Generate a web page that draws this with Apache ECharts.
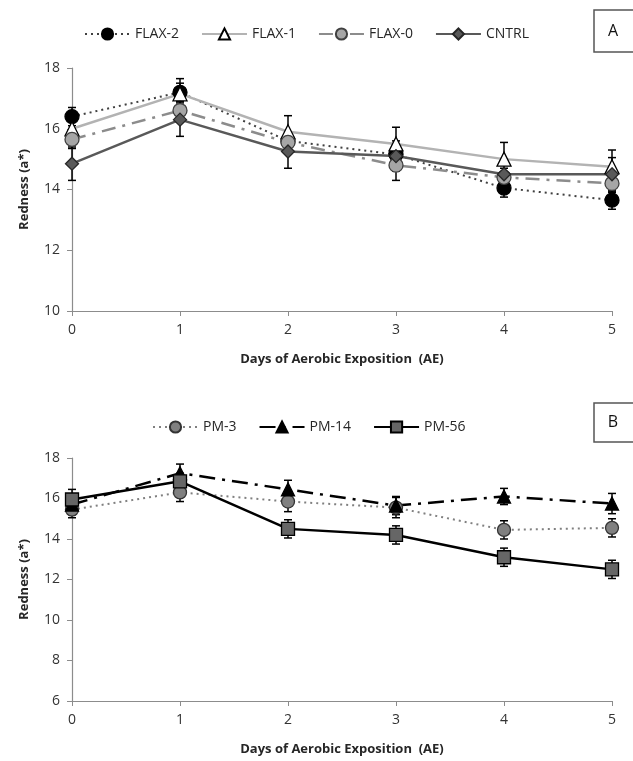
<!DOCTYPE html>
<html>
<head>
<meta charset="utf-8">
<script src="https://cdn.jsdelivr.net/npm/echarts@6/dist/echarts.min.js"></script>
<style>
html,body{margin:0;padding:0;background:#fff;}
#chart{width:633px;height:761px;}
</style>
</head>
<body>
<div id="chart"></div>
<script>
// ---- data ----
var days = [0, 1, 2, 3, 4, 5];
var xTicks = ['0', '1', '2', '3', '4', '5'];

// Panel A
var flax2 = [16.4, 17.2, 15.6, 15.15, 14.05, 13.65];
var flax1 = [16.0, 17.15, 15.9, 15.5, 15.0, 14.75];
var flax0 = [15.65, 16.6, 15.55, 14.8, 14.4, 14.2];
var cntrl = [14.85, 16.3, 15.25, 15.1, 14.5, 14.5];
var flax2Err = [0.3, 0.3, 0.3, 0.3, 0.3, 0.3];
var flax1Err = [0.4, 0.5, 0.53, 0.55, 0.55, 0.55];
var flax0Err = [0.3, 0.3, 0.3, 0.5, 0.3, 0.3];
var cntrlErr = [0.55, 0.55, 0.55, 0.5, 0.45, 0.55];

// Panel B
var pm3 = [15.45, 16.3, 15.85, 15.55, 14.45, 14.55];
var pm14 = [15.7, 17.25, 16.45, 15.65, 16.1, 15.75];
var pm56 = [15.95, 16.85, 14.5, 14.2, 13.1, 12.5];
var pm3Err = [0.4, 0.45, 0.5, 0.5, 0.45, 0.45];
var pm14Err = [0.5, 0.45, 0.45, 0.45, 0.4, 0.5];
var pm56Err = [0.5, 0.4, 0.45, 0.45, 0.45, 0.45];

var yTicksA = [10, 12, 14, 16, 18];
var yTicksB = [6, 8, 10, 12, 14, 16, 18];

// ---- helpers ----
function pts(vals) { return days.map(function (d, i) { return [d, vals[i]]; }); }
function errData(vals, err) {
  return days.map(function (d, i) { return [d, vals[i] - err[i], vals[i] + err[i]]; });
}
function errSeries(name, vals, err, gi) {
  return {
    type: 'custom', name: name + '_err', xAxisIndex: gi, yAxisIndex: gi, z: 1,
    silent: true,
    data: errData(vals, err),
    renderItem: function (params, api) {
      var x = api.value(0);
      var top = api.coord([x, api.value(2)]);
      var bot = api.coord([x, api.value(1)]);
      var w = 4;
      var st = { stroke: '#000', lineWidth: 1.5 };
      return {
        type: 'group',
        children: [
          { type: 'line', shape: { x1: top[0], y1: top[1], x2: bot[0], y2: bot[1] }, style: st },
          { type: 'line', shape: { x1: top[0] - w, y1: top[1], x2: top[0] + w, y2: top[1] }, style: st },
          { type: 'line', shape: { x1: bot[0] - w, y1: bot[1], x2: bot[0] + w, y2: bot[1] }, style: st }
        ]
      };
    }
  };
}
function lineSeries(name, vals, gi, line, marker) {
  return {
    type: 'line', name: name, xAxisIndex: gi, yAxisIndex: gi, z: 3,
    data: pts(vals),
    symbol: marker.symbol, symbolSize: marker.size,
    showSymbol: true,
    itemStyle: { color: marker.fill, borderColor: marker.border, borderWidth: 1.3 },
    lineStyle: line,
    emphasis: { disabled: true },
    animation: false
  };
}

var font = 'Open Sans, Liberation Sans, sans-serif';
var axisGray = '#8c8c8c';

function xAxisCfg(gi) {
  return {
    type: 'value', gridIndex: gi, min: 0, max: 5, interval: 1,
    axisLine: { show: true, onZero: false, lineStyle: { color: axisGray, width: 1.2 } },
    axisTick: { show: true, inside: false, length: 5, lineStyle: { color: axisGray } },
    splitLine: { show: false },
    axisLabel: { color: '#333', fontSize: 14, fontFamily: font, margin: 12,
      formatter: function (v) { return xTicks[days.indexOf(v)]; } },
    name: 'Days of Aerobic Exposition  (AE)', nameLocation: 'middle', nameGap: 42,
    nameTextStyle: { color: '#262626', fontSize: 13, fontWeight: 'bold', fontFamily: font }
  };
}
function yAxisCfg(gi, ticks) {
  return {
    type: 'value', gridIndex: gi, min: ticks[0], max: ticks[ticks.length - 1], interval: 2,
    axisLine: { show: true, lineStyle: { color: axisGray, width: 1.2 } },
    axisTick: { show: true, inside: false, length: 5, lineStyle: { color: axisGray } },
    splitLine: { show: false },
    axisLabel: { color: '#333', fontSize: 14, fontFamily: font, margin: 12 },
    name: 'Redness (a*)', nameLocation: 'middle', nameGap: 41,
    nameTextStyle: { color: '#262626', fontSize: 13, fontWeight: 'bold', fontFamily: font }
  };
}

var chart = echarts.init(document.getElementById('chart'), null, { renderer: 'canvas' });

var lsFlax2 = { color: '#404040', width: 2, type: [2, 4] };
var lsFlax1 = { color: '#b3b3b3', width: 2.5, type: 'solid' };
var lsFlax0 = { color: '#8c8c8c', width: 2.5, type: [14, 7, 3, 7] };
var lsCntrl = { color: '#595959', width: 2.5, type: 'solid' };
var lsPm3 = { color: '#808080', width: 2, type: [2, 4] };
var lsPm14 = { color: '#000', width: 2.5, type: [16, 7, 3, 7] };
var lsPm56 = { color: '#000', width: 2.5, type: 'solid' };

var option = {
  animation: false,
  backgroundColor: '#fff',
  grid: [
    { left: 72, right: 21, top: 68, height: 243 },
    { left: 72, right: 21, top: 458, height: 243 }
  ],
  xAxis: [xAxisCfg(0), xAxisCfg(1)],
  yAxis: [yAxisCfg(0, yTicksA), yAxisCfg(1, yTicksB)],
  legend: [
    { left: 79, top: 22, itemWidth: 45, itemHeight: 14, itemGap: 22,
      textStyle: { color: '#262626', fontSize: 14, fontFamily: font },
      data: ['FLAX-2', 'FLAX-1', 'FLAX-0', 'CNTRL'] },
    { left: 147, top: 415, itemWidth: 45, itemHeight: 14, itemGap: 22,
      textStyle: { color: '#262626', fontSize: 14, fontFamily: font },
      data: ['PM-3', 'PM-14', 'PM-56'] }
  ],
  graphic: [
    { type: 'rect', shape: { x: 594, y: 10, width: 50, height: 42 },
      style: { fill: '#fff', stroke: '#555', lineWidth: 1.5 } },
    { type: 'text', x: 613, y: 31, style: { text: 'A', font: '16px ' + font, fill: '#111', textAlign: 'center', textVerticalAlign: 'middle' } },
    { type: 'rect', shape: { x: 594, y: 403, width: 50, height: 39 },
      style: { fill: '#fff', stroke: '#555', lineWidth: 1.5 } },
    { type: 'text', x: 613, y: 422, style: { text: 'B', font: '16px ' + font, fill: '#111', textAlign: 'center', textVerticalAlign: 'middle' } }
  ],
  series: [
    errSeries('FLAX-2', flax2, flax2Err, 0),
    errSeries('FLAX-1', flax1, flax1Err, 0),
    errSeries('FLAX-0', flax0, flax0Err, 0),
    errSeries('CNTRL', cntrl, cntrlErr, 0),
    lineSeries('FLAX-2', flax2, 0, lsFlax2, { symbol: 'circle', size: 14, fill: '#000', border: '#000' }),
    lineSeries('FLAX-1', flax1, 0, lsFlax1, { symbol: 'triangle', size: 14, fill: '#fff', border: '#000' }),
    lineSeries('FLAX-0', flax0, 0, lsFlax0, { symbol: 'circle', size: 14, fill: '#a6a6a6', border: '#404040' }),
    lineSeries('CNTRL', cntrl, 0, lsCntrl, { symbol: 'diamond', size: 13, fill: '#595959', border: '#262626' }),

    errSeries('PM-3', pm3, pm3Err, 1),
    errSeries('PM-14', pm14, pm14Err, 1),
    errSeries('PM-56', pm56, pm56Err, 1),
    lineSeries('PM-3', pm3, 1, lsPm3, { symbol: 'circle', size: 13, fill: '#808080', border: '#333' }),
    lineSeries('PM-14', pm14, 1, lsPm14, { symbol: 'triangle', size: 13, fill: '#000', border: '#000' }),
    lineSeries('PM-56', pm56, 1, lsPm56, { symbol: 'rect', size: 13, fill: '#666', border: '#000' })
  ]
};
chart.setOption(option);
</script>
</body>
</html>
